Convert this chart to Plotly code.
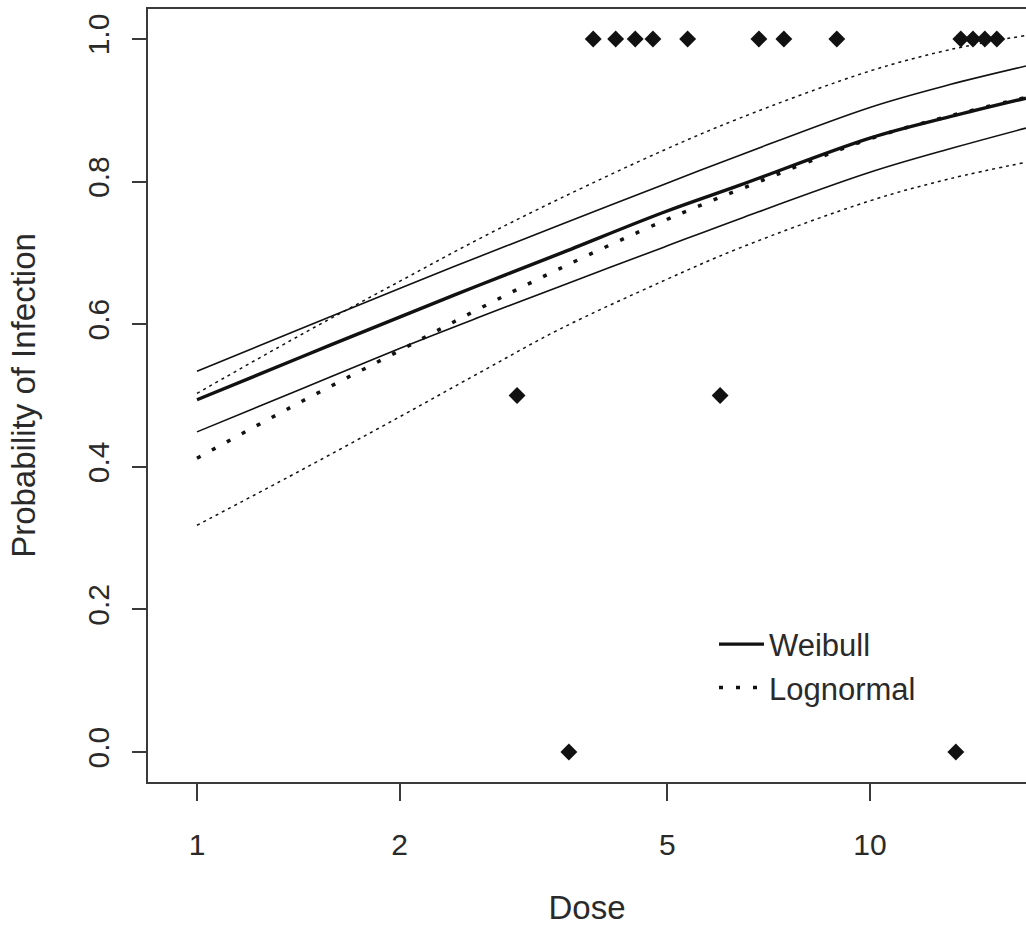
import plotly.graph_objects as go

# Fitted curves (dose on log axis)
dose_grid = [1.0, 1.42, 2.0, 2.63, 3.46, 4.94, 6.41, 10.0, 13.15, 17.06]
weibull_mid = [0.494, 0.553, 0.610, 0.655, 0.699, 0.757, 0.795, 0.861, 0.891, 0.917]
weibull_hi = [0.534, 0.593, 0.650, 0.695, 0.739, 0.796, 0.837, 0.904, 0.936, 0.962]
weibull_lo = [0.449, 0.508, 0.566, 0.610, 0.653, 0.708, 0.748, 0.813, 0.846, 0.875]
lognorm_mid = [0.412, 0.490, 0.563, 0.622, 0.678, 0.745, 0.789, 0.860, 0.892, 0.918]
lognorm_hi = [0.503, 0.584, 0.660, 0.720, 0.776, 0.844, 0.889, 0.955, 0.985, 1.005]
lognorm_lo = [0.318, 0.394, 0.470, 0.532, 0.593, 0.661, 0.707, 0.773, 0.804, 0.827]

# Observed data points
obs_dose = [3.88, 4.19, 4.48, 4.76, 5.36, 6.84, 7.45, 8.93, 13.65, 14.23, 14.82, 15.44,
            2.99, 5.99, 3.57, 13.42]
obs_prob = [1.0, 1.0, 1.0, 1.0, 1.0, 1.0, 1.0, 1.0, 1.0, 1.0, 1.0, 1.0,
            0.5, 0.5, 0.0, 0.0]

x_ticks = [1, 2, 5, 10]
y_ticks = [0.0, 0.2, 0.4, 0.6, 0.8, 1.0]

FONT = "Liberation Sans, Arial, sans-serif"
INK = "#111111"
TXT = "#2a2a2a"

fig = go.Figure()

fig.add_trace(go.Scatter(x=dose_grid, y=lognorm_hi, mode="lines", showlegend=False,
                         line=dict(color=INK, width=1.5, dash="3px,4px", shape="spline")))
fig.add_trace(go.Scatter(x=dose_grid, y=lognorm_lo, mode="lines", showlegend=False,
                         line=dict(color=INK, width=1.5, dash="3px,4px", shape="spline")))
fig.add_trace(go.Scatter(x=dose_grid, y=weibull_hi, mode="lines", showlegend=False,
                         line=dict(color=INK, width=1.6, shape="spline")))
fig.add_trace(go.Scatter(x=dose_grid, y=weibull_lo, mode="lines", showlegend=False,
                         line=dict(color=INK, width=1.6, shape="spline")))
fig.add_trace(go.Scatter(x=dose_grid, y=weibull_mid, mode="lines", name="Weibull",
                         line=dict(color=INK, width=3.4, shape="spline")))
fig.add_trace(go.Scatter(x=dose_grid, y=lognorm_mid, mode="lines", name="Lognormal",
                         line=dict(color=INK, width=3.5, dash="4px,13px", shape="spline")))
fig.add_trace(go.Scatter(x=obs_dose, y=obs_prob, mode="markers", showlegend=False,
                         marker=dict(symbol="diamond", size=13, color=INK)))

fig.update_layout(
    width=1026, height=928,
    margin=dict(l=148, r=0, t=9, b=146),
    paper_bgcolor="white", plot_bgcolor="white",
    font=dict(family=FONT, size=30, color=TXT),
    legend=dict(x=(714 - 148) / 878, y=1 - (666 - 9) / 773, xanchor="left",
                yanchor="middle", itemwidth=45,
                bgcolor="rgba(0,0,0,0)", font=dict(size=31, color=TXT)),
    xaxis=dict(type="log", range=[-0.0728, 1.232], tickvals=x_ticks,
               ticktext=[str(v) for v in x_ticks],
               showgrid=False, zeroline=False, showline=True, mirror=True,
               linecolor="#3a3a3a", linewidth=2.4, ticks="outside", ticklen=17,
               tickwidth=1.6, tickcolor="#3a3a3a", ticklabelstandoff=18,
               tickfont=dict(size=30),
               title=dict(text="Dose", font=dict(size=33), standoff=36)),
    yaxis=dict(range=[-0.042, 1.042], tickvals=y_ticks,
               ticktext=["%.1f" % v for v in y_ticks],
               showgrid=False, zeroline=False, showline=True, mirror=False,
               linecolor="#3a3a3a", linewidth=2.4, ticks="outside", ticklen=14,
               tickwidth=1.6, tickcolor="#3a3a3a", tickangle=-90,
               ticklabelstandoff=11, tickfont=dict(size=30),
               title=dict(text="Probability of Infection", font=dict(size=33),
                          standoff=36)),
)

fig.write_html(
    "out.html",
    config={"displayModeBar": False},
    post_script="document.body.style.margin='0';document.body.style.overflow='hidden';",
)
